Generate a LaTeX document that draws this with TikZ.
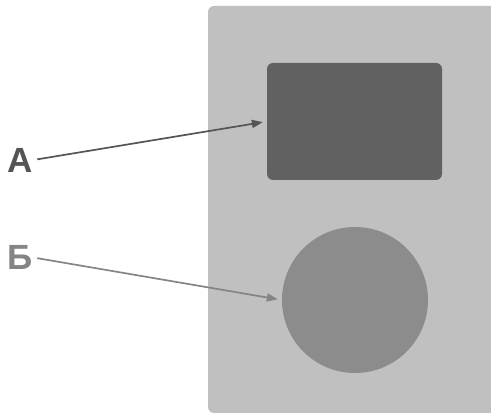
\documentclass[tikz,border=0pt]{standalone}
\usepackage{fontspec}
\setmainfont{Liberation Sans}
\usetikzlibrary{arrows.meta}
\definecolor{panelgray}{HTML}{C0C0C0}
\definecolor{screengray}{HTML}{616161}
\definecolor{knobgray}{HTML}{8C8C8C}
\definecolor{darklab}{HTML}{555555}
\definecolor{lightlab}{HTML}{858585}
\tikzset{
  panel/.style={rectangle, rounded corners=6pt, fill=panelgray,
                minimum width=300pt, minimum height=407pt, inner sep=0pt},
  screen/.style={rectangle, rounded corners=6pt, fill=screengray,
                 minimum width=175pt, minimum height=117pt, inner sep=0pt},
  knob/.style={circle, fill=knobgray, minimum size=146pt, inner sep=0pt},
  lab/.style={inner sep=0pt, font=\fontsize{35}{35}\selectfont\bfseries},
  arr/.style={-{Triangle[length=11pt, width=8pt]}, line width=1.7pt,
              shorten <=4pt, shorten >=4pt},
}
\begin{document}
\begin{tikzpicture}[x=1pt, y=1pt]
  \useasboundingbox (0,0) rectangle (491,414);
  \node[panel]  (body)   at (358,204.5) {};
  \node[screen] (screen) at (354.5,292.5) {};
  \node[knob]   (knob)   at (355,114) {};
  \node[lab, text=darklab]  (labA) at (20.5,254) {А};
  \node[lab, text=lightlab] (labB) at (20.5,156.5) {Б};
  \draw[arr, darklab]  (labA.east) -- (screen.west);
  \draw[arr, lightlab] (labB.east) -- (knob.west);
\end{tikzpicture}
\end{document}
